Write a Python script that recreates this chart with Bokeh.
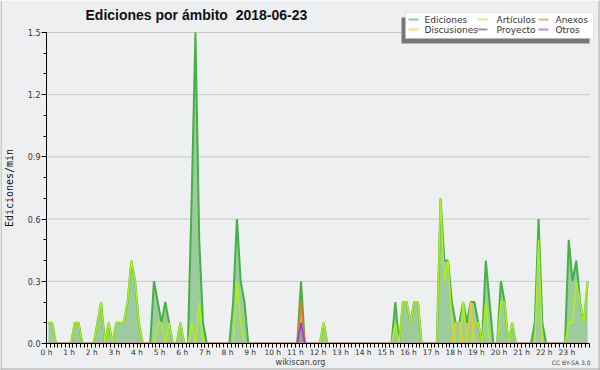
from bokeh.plotting import figure
from bokeh.models import (FixedTicker, NumeralTickFormatter, Label, BoxAnnotation, Range1d)
from bokeh.embed import file_html
from bokeh.resources import INLINE

# ---------------- data (edits per minute, 10-minute bins, one row per hour) ----------------
hours = list(range(24))
hour_labels = [f"{h} h" for h in hours]
bins_per_hour = 6
y_ticks = [0, 0.3, 0.6, 0.9, 1.2, 1.5]
y_max = 1.5

ediciones = [
    0.1, 0.1, 0, 0, 0, 0,        # 0 h
    0, 0.1, 0.1, 0, 0, 0,        # 1 h
    0, 0.1, 0.2, 0, 0.1, 0,      # 2 h
    0.1, 0.1, 0.1, 0.2, 0.4, 0.3,  # 3 h
    0.1, 0, 0, 0, 0.3, 0.2,      # 4 h
    0.1, 0.2, 0.1, 0, 0, 0.1,    # 5 h
    0, 0, 0.7, 1.5, 0.5, 0.1,    # 6 h
    0, 0, 0, 0, 0, 0,            # 7 h
    0, 0.2, 0.6, 0.3, 0.2, 0,    # 8 h
    0, 0, 0, 0, 0, 0,            # 9 h
    0, 0, 0, 0, 0, 0,            # 10 h
    0, 0.3, 0, 0, 0, 0,          # 11 h
    0, 0.1, 0, 0, 0, 0,          # 12 h
    0, 0, 0, 0, 0, 0,            # 13 h
    0, 0, 0, 0, 0, 0,            # 14 h
    0, 0, 0.2, 0, 0.2, 0.2,      # 15 h
    0.1, 0.2, 0.2, 0, 0, 0,      # 16 h
    0, 0, 0.7, 0.4, 0.4, 0.2,    # 17 h
    0.1, 0.1, 0.2, 0.1, 0.2, 0.2,  # 18 h
    0.1, 0, 0.4, 0.2, 0, 0,      # 19 h
    0.3, 0.2, 0, 0.1, 0, 0,      # 20 h
    0, 0, 0, 0.1, 0.6, 0.1,      # 21 h
    0, 0, 0, 0, 0, 0,            # 22 h
    0.5, 0.3, 0.4, 0.2, 0.1, 0.3,  # 23 h
]

articulos = [
    0.1, 0.1, 0, 0, 0, 0,
    0, 0.1, 0.1, 0, 0, 0,
    0, 0.1, 0.2, 0, 0.1, 0,
    0.1, 0.1, 0.1, 0.2, 0.4, 0.3,
    0.1, 0, 0, 0, 0, 0.1,
    0.1, 0, 0.1, 0, 0, 0.1,
    0, 0, 0.1, 0, 0.2, 0,
    0, 0, 0, 0, 0, 0,
    0, 0, 0.3, 0.1, 0, 0,
    0, 0, 0, 0, 0, 0,
    0, 0, 0, 0, 0, 0,
    0, 0, 0, 0, 0, 0,
    0, 0.1, 0, 0, 0, 0,
    0, 0, 0, 0, 0, 0,
    0, 0, 0, 0, 0, 0,
    0, 0, 0.1, 0, 0.2, 0.2,
    0.1, 0.2, 0.2, 0, 0, 0,
    0, 0, 0.7, 0.3, 0.4, 0.1,
    0, 0, 0.2, 0, 0, 0.1,
    0.1, 0, 0.2, 0, 0, 0,
    0.2, 0.2, 0, 0.1, 0, 0,
    0, 0, 0, 0, 0.5, 0,
    0, 0, 0, 0, 0, 0,
    0.1, 0.1, 0.3, 0.2, 0.1, 0.3,
]

discusiones = [0] * 108 + [0.1, 0.1, 0, 0, 0.2, 0] + [0] * 30
anexos = [0] * 67 + [0.2] + [0] * 76
otros = [0] * 67 + [0.1] + [0] * 76
proyecto = [0] * 144

series_names = ["Ediciones", "Artículos", "Anexos", "Discusiones", "Proyecto", "Otros"]

# ---------------- style ----------------
BG = "#eeeff0"
C_ED = "#45b045"
C_FILL = "#9ecb9e"
C_ART = "#aef01a"
C_ANX = "#f07828"
C_DIS = "#f5c820"
C_PRO = "#555555"
C_OTR = "#8a3ce0"

W, H = 600, 370
FL, FR = 46, 589          # pixel x of 0 h and of 24 h
FT, FB = 32, 343          # pixel y of 1.5 and of 0
px_per_h = (FR - FL) / 24
px_per_u = (FB - FT) / y_max

x = [(i + 0.5) / bins_per_hour for i in range(len(ediciones))]

p = figure(width=W, height=H, output_backend="svg", toolbar_location=None,
           x_range=Range1d(-FL / px_per_h, (W - FL) / px_per_h),
           y_range=Range1d(-(H - FB) / px_per_u, FB / px_per_u),
           min_border_left=0, min_border_right=0, min_border_top=0, min_border_bottom=0,
           background_fill_color=BG, border_fill_color=BG, outline_line_color=None)

# horizontal grid lines over the 0..24 h span
p.segment(x0=[0] * len(y_ticks), x1=[24] * len(y_ticks), y0=y_ticks, y1=y_ticks,
          line_color="#c8c8c8", line_width=1)

p.varea(x=x, y1=0, y2=ediciones, fill_color=C_FILL, fill_alpha=1.0)
p.line(x, ediciones, line_color=C_ED, line_width=2.0)
p.line(x, articulos, line_color=C_ART, line_width=1.5)
p.line(x, discusiones, line_color=C_DIS, line_width=1.5)
p.line(x, proyecto, line_color=C_PRO, line_width=1.2)
p.varea(x=x, y1=0, y2=anexos, fill_color=C_ANX, fill_alpha=0.25)
p.line(x, anexos, line_color=C_ANX, line_width=1.5)
p.varea(x=x, y1=0, y2=otros, fill_color=C_OTR, fill_alpha=0.25)
p.line(x, otros, line_color=C_OTR, line_width=1.5)

# mask below the zero line (keeps the baseline black like the original)
p.add_layout(BoxAnnotation(top=0, fill_color=BG, fill_alpha=1, line_color=None, level="glyph"))

# axes (placed at the data origin, inside a full-canvas frame)
p.xaxis.fixed_location = 0
p.yaxis.fixed_location = 0
p.xaxis.bounds = (0, 24)
p.yaxis.bounds = (0, y_max)
p.xaxis.ticker = FixedTicker(ticks=hours, minor_ticks=[k / bins_per_hour for k in range(24 * bins_per_hour + 1)])
p.xaxis.major_label_overrides = {h: lab for h, lab in zip(hours, hour_labels)}
p.yaxis.ticker = FixedTicker(ticks=y_ticks, minor_ticks=[k / 10 for k in range(16)])
p.yaxis.formatter = NumeralTickFormatter(format="0.0")
for ax in (p.xaxis, p.yaxis):
    ax.axis_line_color = "black"
    ax.major_tick_line_color = "black"
    ax.minor_tick_line_color = "black"
    ax.major_tick_in = 0
    ax.minor_tick_in = 0
    ax.major_label_text_color = "#333333"
    ax.major_label_text_font = "DejaVu Sans"
p.xaxis.major_tick_out = 4
p.xaxis.minor_tick_out = 4
p.yaxis.major_tick_out = 5
p.yaxis.minor_tick_out = 3
p.xaxis.major_label_text_font_size = "7.5px"
p.yaxis.major_label_text_font_size = "8px"
p.xaxis.major_label_standoff = 0
p.yaxis.major_label_standoff = 1
p.yaxis.axis_label = "Ediciones/min"
p.yaxis.axis_label_text_font = "DejaVu Sans Mono"
p.yaxis.axis_label_text_font_size = "10px"
p.yaxis.axis_label_text_font_style = "normal"
p.yaxis.axis_label_text_color = "#111111"
p.yaxis.axis_label_standoff = 10

p.xgrid.visible = False
p.ygrid.visible = False


def label(text, x, y, size, font="DejaVu Sans", style="normal", align="left", color="#222222"):
    p.add_layout(Label(x=x, y=y, x_units="canvas", y_units="canvas", text=text,
                       text_font=font, text_font_size=size, text_font_style=style,
                       text_align=align, text_baseline="middle", text_color=color))


def box(l, r, t, b, color, line=None, alpha=1.0):
    p.add_layout(BoxAnnotation(left=l, right=r, top=t, bottom=b,
                               left_units="canvas", right_units="canvas",
                               top_units="canvas", bottom_units="canvas",
                               fill_color=color, fill_alpha=alpha, line_color=line, line_width=1))


label("Ediciones por ámbito \u00a02018-06-23", 85, 14, "14px", font="Liberation Sans", style="bold", color="#111111")
label("wikiscan.org", 300, 362, "8px", align="center", color="#3a3a3a")
label("CC BY-SA 3.0", 590, 362, "6px", align="right", color="#444444")

# legend (manual, with shadow)
box(401, 589, 17, 43, "#777777")
box(405, 593, 12, 38, "white", line="#b8b8b8")
legend_colors = [C_ED, C_ART, C_ANX, C_DIS, C_PRO, C_OTR]
col_sample = [408, 477, 538]
col_text = [424, 496, 555]
row_y = [19, 29]
for k, (name, col) in enumerate(zip(series_names, legend_colors)):
    r, c = divmod(k, 3)
    y = row_y[r]
    box(col_sample[c], col_sample[c] + 10, y - 1, y + 1, col, alpha=0.6)
    label(name, col_text[c], y, "9px", color="#333333")

# light frame lines at the picture edges
box(0, 1, 0, H, "#a8a8a8")
box(W - 2, W - 1, 0, H, "#a8a8a8")
box(0, W, H - 2, H - 1, "#a8a8a8")

open("out.html", "w").write(file_html(p, INLINE))
